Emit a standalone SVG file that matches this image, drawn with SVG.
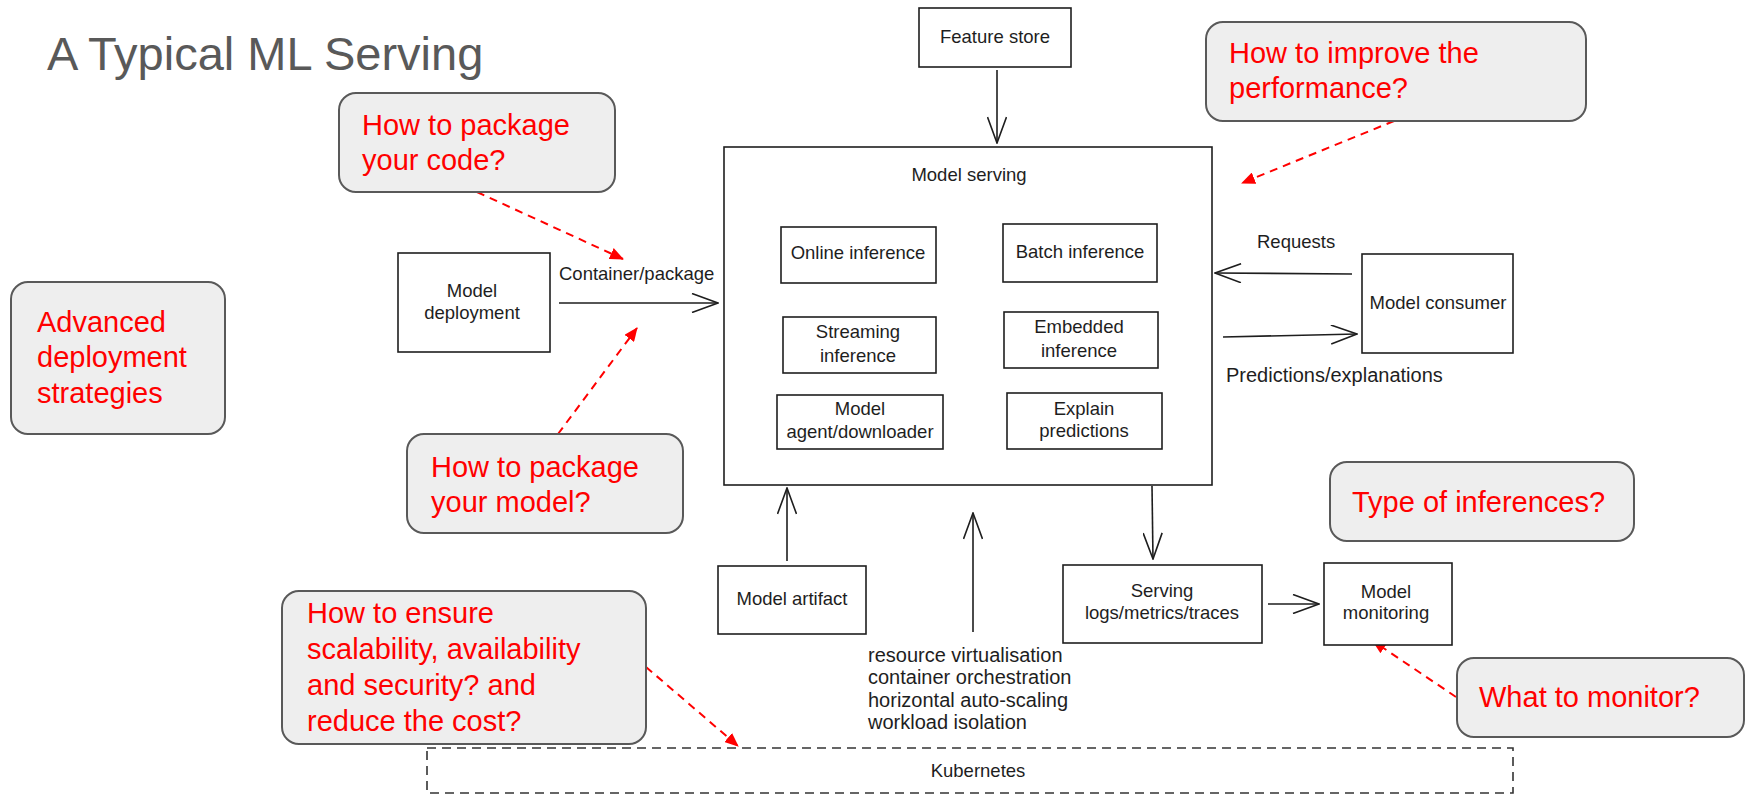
<svg xmlns="http://www.w3.org/2000/svg" width="1746" height="795" viewBox="0 0 1746 795">
<style>
.callout{fill:#eeeeee;stroke:#595959;stroke-width:2}
.q{font-family:"Liberation Sans",Arial,sans-serif;font-size:29px;fill:#ff0000}
.box{fill:#ffffff;stroke:#1e1e1e;stroke-width:1.6}
.lbl{font-family:"Liberation Sans",Arial,sans-serif;font-size:18.5px;fill:#1e1e1e}
.wide{font-size:20px}
.mid{text-anchor:middle}
.conn{fill:none;stroke:#1e1e1e;stroke-width:1.6}
.red{fill:none;stroke:#ff0000;stroke-width:2;stroke-dasharray:8 6}
.k8s{fill:none;stroke:#333333;stroke-width:1.6;stroke-dasharray:9 6}
</style>
<defs>
<marker id="open" viewBox="0 0 28 20" refX="27" refY="10" markerWidth="28" markerHeight="20" markerUnits="userSpaceOnUse" orient="auto">
<path d="M1,0.5 L27,10 L1,19.5" fill="none" stroke="#1e1e1e" stroke-width="1.6"/>
</marker>
<marker id="redhead" viewBox="0 0 14 12" refX="13" refY="6" markerWidth="14" markerHeight="12" markerUnits="userSpaceOnUse" orient="auto">
<path d="M0,0 L14,6 L0,12 Z" fill="#ff0000"/>
</marker>
</defs>

<text x="47" y="70" font-family="Liberation Sans, Arial, sans-serif" font-size="47" fill="#595959">A Typical ML Serving</text>

<g id="connectors">
<line class="conn" x1="997" y1="70" x2="997" y2="143" marker-end="url(#open)"/>
<line class="conn" x1="559" y1="303" x2="718" y2="303" marker-end="url(#open)"/>
<line class="conn" x1="1352" y1="274" x2="1215" y2="273" marker-end="url(#open)"/>
<line class="conn" x1="1223" y1="337" x2="1357" y2="334" marker-end="url(#open)"/>
<line class="conn" x1="787" y1="561" x2="787" y2="488" marker-end="url(#open)"/>
<line class="conn" x1="973" y1="632" x2="973" y2="513" marker-end="url(#open)"/>
<line class="conn" x1="1152" y1="486" x2="1153" y2="559" marker-end="url(#open)"/>
<line class="conn" x1="1268" y1="604" x2="1319" y2="604" marker-end="url(#open)"/>
<line class="red" x1="477" y1="192" x2="623" y2="259" marker-end="url(#redhead)"/>
<line class="red" x1="558" y1="434" x2="637" y2="328" marker-end="url(#redhead)"/>
<line class="red" x1="1394" y1="121" x2="1242" y2="183" marker-end="url(#redhead)"/>
<line class="red" x1="646" y1="667" x2="738" y2="746" marker-end="url(#redhead)"/>
<line class="red" x1="1456" y1="697" x2="1373" y2="641" marker-end="url(#redhead)"/>
</g>

<g id="feature-store">
<rect class="box" x="919" y="8" width="152" height="59"/>
<text class="lbl mid" x="995" y="43">Feature store</text>
</g>

<g id="model-serving">
<rect class="box" x="724" y="147" width="488" height="338"/>
<text class="lbl mid" x="969" y="181">Model serving</text>
</g>

<g id="online-inference">
<rect class="box" x="781" y="227" width="155" height="56"/>
<text class="lbl mid" x="858" y="259">Online inference</text>
</g>
<g id="batch-inference">
<rect class="box" x="1003" y="224" width="154" height="58"/>
<text class="lbl mid" x="1080" y="258">Batch inference</text>
</g>
<g id="streaming-inference">
<rect class="box" x="783" y="317" width="153" height="56"/>
<text class="lbl mid" x="858" y="338">Streaming</text>
<text class="lbl mid" x="858" y="362">inference</text>
</g>
<g id="embedded-inference">
<rect class="box" x="1004" y="312" width="154" height="56"/>
<text class="lbl mid" x="1079" y="333">Embedded</text>
<text class="lbl mid" x="1079" y="357">inference</text>
</g>
<g id="model-agent">
<rect class="box" x="777" y="395" width="166" height="54"/>
<text class="lbl mid" x="860" y="415">Model</text>
<text class="lbl mid" x="860" y="438">agent/downloader</text>
</g>
<g id="explain-predictions">
<rect class="box" x="1007" y="393" width="155" height="56"/>
<text class="lbl mid" x="1084" y="415">Explain</text>
<text class="lbl mid" x="1084" y="437">predictions</text>
</g>

<g id="model-deployment">
<rect class="box" x="398" y="253" width="152" height="99"/>
<text class="lbl mid" x="472" y="297">Model</text>
<text class="lbl mid" x="472" y="319">deployment</text>
</g>
<text class="lbl" x="559" y="280">Container/package</text>

<g id="model-consumer">
<rect class="box" x="1362" y="254" width="151" height="99"/>
<text class="lbl mid" x="1438" y="309">Model consumer</text>
</g>
<text class="lbl" x="1257" y="248">Requests</text>
<text class="lbl wide" x="1226" y="382">Predictions/explanations</text>

<g id="model-artifact">
<rect class="box" x="718" y="566" width="148" height="68"/>
<text class="lbl mid" x="792" y="605">Model artifact</text>
</g>

<g id="serving-logs">
<rect class="box" x="1063" y="565" width="199" height="78"/>
<text class="lbl mid" x="1162" y="597">Serving</text>
<text class="lbl mid" x="1162" y="619">logs/metrics/traces</text>
</g>

<g id="model-monitoring">
<rect class="box" x="1324" y="563" width="128" height="82"/>
<text class="lbl mid" x="1386" y="598">Model</text>
<text class="lbl mid" x="1386" y="619">monitoring</text>
</g>

<g id="resource-notes">
<text class="lbl wide" x="868" y="662">resource virtualisation</text>
<text class="lbl wide" x="868" y="684">container orchestration</text>
<text class="lbl wide" x="868" y="707">horizontal auto-scaling</text>
<text class="lbl wide" x="868" y="729">workload isolation</text>
</g>

<g id="kubernetes">
<rect class="k8s" x="427" y="748" width="1086" height="45"/>
<text class="lbl mid" x="978" y="777">Kubernetes</text>
</g>

<g id="q-package-code">
<rect class="callout" x="339" y="93" width="276" height="99" rx="17"/>
<text class="q" x="362" y="135">How to package</text>
<text class="q" x="362" y="170">your code?</text>
</g>
<g id="q-performance">
<rect class="callout" x="1206" y="22" width="380" height="99" rx="17"/>
<text class="q" x="1229" y="63">How to improve the</text>
<text class="q" x="1229" y="98">performance?</text>
</g>
<g id="q-advanced">
<rect class="callout" x="11" y="282" width="214" height="152" rx="17"/>
<text class="q" x="37" y="332">Advanced</text>
<text class="q" x="37" y="367">deployment</text>
<text class="q" x="37" y="403">strategies</text>
</g>
<g id="q-package-model">
<rect class="callout" x="407" y="434" width="276" height="99" rx="17"/>
<text class="q" x="431" y="477">How to package</text>
<text class="q" x="431" y="512">your model?</text>
</g>
<g id="q-inferences">
<rect class="callout" x="1330" y="462" width="304" height="79" rx="17"/>
<text class="q" x="1352" y="512">Type of inferences?</text>
</g>
<g id="q-monitor">
<rect class="callout" x="1457" y="658" width="287" height="79" rx="17"/>
<text class="q" x="1479" y="707">What to monitor?</text>
</g>
<g id="q-scalability">
<rect class="callout" x="282" y="591" width="364" height="153" rx="17"/>
<text class="q" x="307" y="623">How to ensure</text>
<text class="q" x="307" y="659">scalability, availability</text>
<text class="q" x="307" y="695">and security? and</text>
<text class="q" x="307" y="731">reduce the cost?</text>
</g>
</svg>
